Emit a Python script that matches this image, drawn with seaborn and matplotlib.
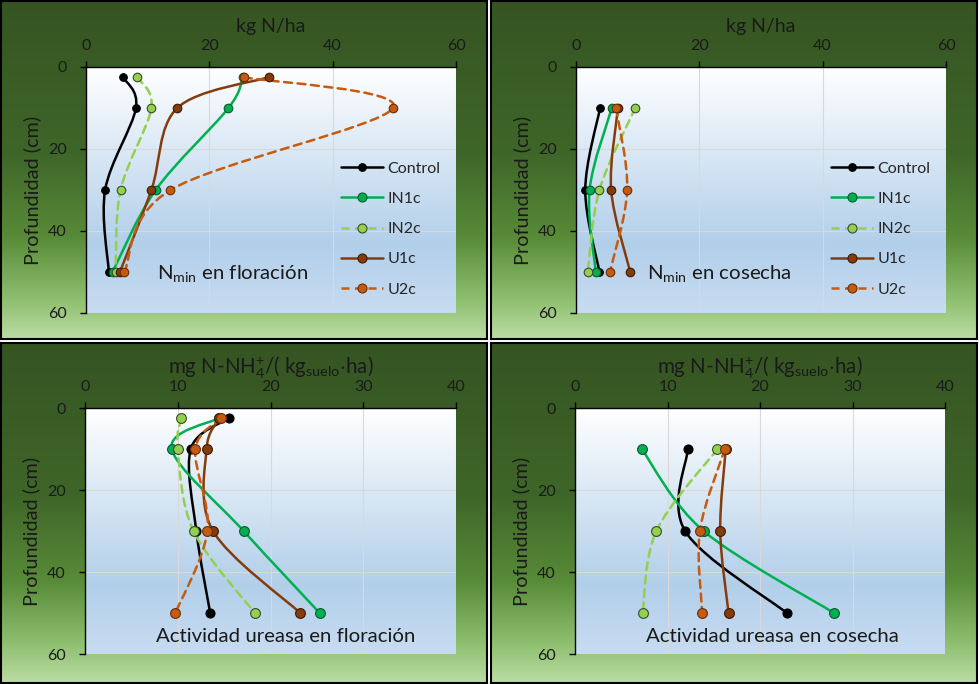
import numpy as np
import pandas as pd
import matplotlib
matplotlib.use("Agg")
import matplotlib.pyplot as plt
import seaborn as sns
from matplotlib.path import Path
from matplotlib.patches import PathPatch
from matplotlib.colors import LinearSegmentedColormap
from matplotlib.lines import Line2D

# ---------------- data ----------------
series = ["Control", "IN1c", "IN2c", "U1c", "U2c"]
depth_flor = [2.5, 10, 30, 50]
depth_cos = [10, 30, 50]

nmin_flor = {
    "Control": [6.0, 8.1, 3.1, 3.7],
    "IN1c": [25.4, 23.1, 11.3, 4.3],
    "IN2c": [8.3, 10.6, 5.6, 4.8],
    "U1c": [29.6, 14.8, 10.6, 5.5],
    "U2c": [25.6, 49.8, 13.7, 6.2],
}
nmin_cos = {
    "Control": [3.9, 1.5, 3.8],
    "IN1c": [5.8, 2.2, 3.2],
    "IN2c": [9.6, 3.8, 1.9],
    "U1c": [6.8, 5.7, 8.8],
    "U2c": [6.5, 8.3, 5.5],
}
ure_flor = {
    "Control": [15.5, 11.4, 12.0, 13.5],
    "IN1c": [14.4, 9.35, 17.1, 25.3],
    "IN2c": [10.4, 10.0, 11.7, 18.3],
    "U1c": [14.5, 13.1, 13.8, 23.2],
    "U2c": [14.7, 11.9, 13.2, 9.75],
}
ure_cos = {
    "Control": [12.2, 11.9, 22.9],
    "IN1c": [7.2, 13.9, 28.0],
    "IN2c": [15.4, 8.8, 7.3],
    "U1c": [16.3, 15.7, 16.6],
    "U2c": [16.2, 13.5, 13.75],
}

x_title_top = "kg N/ha"
x_title_bot = r"mg N-NH$_\mathregular{4}^\mathregular{+}$/( kg$_\mathregular{suelo}$$\mathregular{\cdot}$ha)"
y_title = "Profundidad (cm)"
notes = [r"N$_\mathregular{min}$ en floración", r"N$_\mathregular{min}$ en cosecha",
         "Actividad ureasa en floración", "Actividad ureasa en cosecha"]
x_ticks_top = [0, 20, 40, 60]
x_ticks_bot = [0, 10, 20, 30, 40]
y_ticks = [0, 20, 40, 60]

# ---------------- style ----------------
colors = {"Control": "#000000", "IN1c": "#00B050", "IN2c": "#92D050",
          "U1c": "#843C0C", "U2c": "#C55A11"}
edges = {"Control": "#000000", "IN1c": "#0A5A30", "IN2c": "#3C4A2A",
         "U1c": "#3F1A05", "U2c": "#6A2E08"}
dashed = {"Control": False, "IN1c": False, "IN2c": True, "U1c": False, "U2c": True}

sns.set_theme(style="white")
plt.rcParams["font.family"] = ["Lato", "DejaVu Sans"]
plt.rcParams["mathtext.fontset"] = "custom"
plt.rcParams["mathtext.rm"] = "Lato"
plt.rcParams["mathtext.it"] = "Lato:italic"

W_FIG, H_FIG = 980, 684
fig = plt.figure(figsize=(9.8, 6.84), dpi=100)
fig.patch.set_facecolor("white")

panel_cmap = LinearSegmentedColormap.from_list(
    "pan", [(0, "#355422"), (0.45, "#3F6629"), (0.7, "#588B38"),
            (0.88, "#8CBE6D"), (1.0, "#BBDCA4")])
plot_cmap = LinearSegmentedColormap.from_list(
    "plt", [(0, "#FFFFFF"), (0.72, "#B2CFEA"), (1.0, "#C8DCF1")])
grad = np.linspace(0, 1, 256).reshape(-1, 1)


def fig_rect(x0, y0, x1, y1):
    return [x0 / W_FIG, 1 - y1 / H_FIG, (x1 - x0) / W_FIG, (y1 - y0) / H_FIG]


panels = [(1, 1, 487, 339), (491, 1, 977, 339), (1, 343, 487, 683), (491, 343, 977, 683)]
plots = [(86, 67, 456, 313), (576, 67, 946, 313), (85, 408, 456, 654), (575, 408, 945, 654)]

datasets = [(nmin_flor, depth_flor, 60, x_ticks_top, x_title_top, True),
            (nmin_cos, depth_cos, 60, x_ticks_top, x_title_top, True),
            (ure_flor, depth_flor, 40, x_ticks_bot, x_title_bot, False),
            (ure_cos, depth_cos, 40, x_ticks_bot, x_title_bot, False)]


def smooth_patch(ax, xs, ys, xmax, color, ls, W, H):
    P = np.column_stack([np.asarray(xs, float) / xmax * W, np.asarray(ys, float) / 60 * H])
    n = len(P)
    verts = [P[0]]
    codes = [Path.MOVETO]
    for i in range(n - 1):
        p0 = P[i - 1] if i > 0 else P[i]
        p1 = P[i]
        p2 = P[i + 1]
        p3 = P[i + 2] if i + 2 < n else P[i + 1]
        c1 = p1 + (p2 - p0) / 6.0
        c2 = p2 - (p3 - p1) / 6.0
        verts += [c1, c2, p2]
        codes += [Path.CURVE4] * 3
    V = np.array(verts)
    V[:, 0] *= xmax / W
    V[:, 1] *= 60 / H
    patch = PathPatch(Path(V, codes), facecolor="none", edgecolor=color, lw=1.8,
                      linestyle=ls, capstyle="round", joinstyle="round", zorder=3)
    ax.add_patch(patch)


for k in range(4):
    # panel background
    pax = fig.add_axes(fig_rect(*panels[k]), zorder=0)
    pax.imshow(grad, cmap=panel_cmap, aspect="auto", extent=[0, 1, 1, 0], interpolation="bicubic")
    pax.set_xlim(0, 1)
    pax.set_ylim(1, 0)
    pax.set_xticks([])
    pax.set_yticks([])
    for s in pax.spines.values():
        s.set_color("black")
        s.set_linewidth(1.5)

    data, depth, xmax, xt, xtitle, top = datasets[k]
    x0, y0, x1, y1 = plots[k]
    W, H = x1 - x0, y1 - y0
    ax = fig.add_axes(fig_rect(*plots[k]), zorder=1)
    ax.set_facecolor("none")
    ax.imshow(grad, cmap=plot_cmap, aspect="auto", extent=[0, 1, 0, 1], origin="upper",
              transform=ax.transAxes, zorder=0, interpolation="bicubic")

    ms = 38 if top else 50
    for name in series:
        vals = data[name]
        df = pd.DataFrame({"value": vals, "depth": depth})
        ls = (0, (3.2, 2.2)) if dashed[name] else "-"
        smooth_patch(ax, vals, depth, xmax, colors[name], ls, W, H)
        sns.scatterplot(data=df, x="value", y="depth", ax=ax, color=colors[name],
                        edgecolor=edges[name], linewidth=0.8,
                        s=(ms - 8 if name == "Control" else ms), zorder=4, legend=False)

    ax.set_xlim(0, xmax)
    ax.set_ylim(60, 0)
    ax.set_xticks(xt)
    ax.set_yticks(y_ticks)
    ax.xaxis.set_ticks_position("top")
    ax.xaxis.set_label_position("top")
    ax.grid(True, color="#D9D9D9", lw=0.8, zorder=1)
    ax.set_axisbelow(True)
    for side in ["right", "bottom"]:
        ax.spines[side].set_visible(False)
    for side in ["left", "top"]:
        ax.spines[side].set_visible(True)
        ax.spines[side].set_color("black")
        ax.spines[side].set_linewidth(1.0)
        ax.spines[side].set_zorder(5)
    ax.tick_params(axis="both", which="major", direction="out", length=4, width=1,
                   color="black", labelsize=11.5, labelcolor="#1a1a1a")
    ax.tick_params(axis="x", pad=6, top=True, bottom=False)
    ax.tick_params(axis="y", pad=10, left=True)
    ax.set_xlabel(xtitle, fontsize=(14 if top else 14.8), color="#1a1a1a", labelpad=5)
    ax.set_ylabel(y_title, fontsize=14.3, color="#1a1a1a", labelpad=5)

    if top:
        handles = [Line2D([0], [0], color=colors[n], lw=1.8,
                          ls=((0, (3.2, 2.2)) if dashed[n] else "-"),
                          marker="o", markersize=6.5 if n != "Control" else 5.5,
                          markerfacecolor=colors[n], markeredgecolor=edges[n],
                          markeredgewidth=0.8) for n in series]
        ax.legend(handles, series, loc="upper left", bbox_to_anchor=(0.69, 0.615),
                  frameon=False, fontsize=11.5, handlelength=2.6, handletextpad=0.3,
                  labelspacing=1.0, borderpad=0, borderaxespad=0)
        ax.text(0.193, 0.16, notes[k], transform=ax.transAxes, fontsize=14.7,
                ha="left", va="center", color="#1a1a1a", zorder=6)
    else:
        ax.text(0.191, 0.07, notes[k], transform=ax.transAxes, fontsize=14.7,
                ha="left", va="center", color="#1a1a1a", zorder=6)

fig.savefig("out.png", dpi=100)
